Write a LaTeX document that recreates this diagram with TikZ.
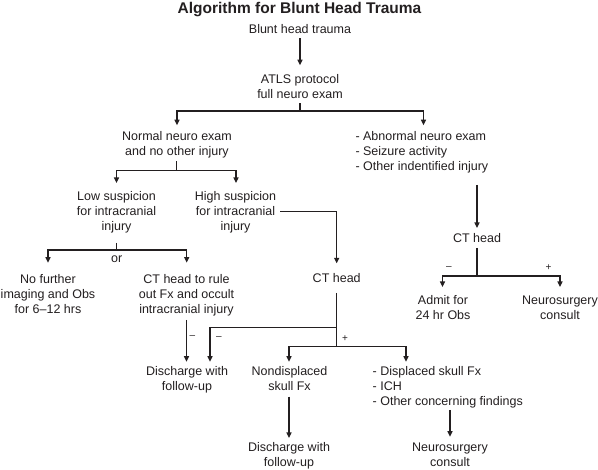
\documentclass[tikz,border=0pt]{standalone}
\usepackage{fontspec}
\setmainfont{Liberation Sans}
\usetikzlibrary{arrows.meta,calc}
\definecolor{ink}{HTML}{231F20}
\begin{document}
\begin{tikzpicture}[x=1pt,y=-1pt,
  txt/.style={inner sep=0pt, outer sep=0pt, align=center, font=\fontsize{12.5}{15}\selectfont, text=ink, anchor=base},
  ltxt/.style={txt, align=left, anchor=base west},
  lbl/.style={inner sep=0pt, outer sep=0pt, font=\fontsize{10}{12}\selectfont, text=ink},
  ln/.style={draw=ink, line width=1.2pt},
  arr/.style={ln, -{Triangle[length=5.5pt,width=5pt]}},
  arrs/.style={ln, {Triangle[length=5.5pt,width=5pt]}-{Triangle[length=5.5pt,width=5pt]}}]
\useasboundingbox (0,0) rectangle (598,470);
\fill[white] (0,0) rectangle (598,470);

% multi-line nodes are placed by the baseline of their last line
\node[txt, font=\bfseries\fontsize{15.5}{18}\selectfont] (title) at (299.5,13.3) {Algorithm for Blunt Head Trauma};
\node[txt] (blunt) at (300,34) {Blunt head trauma};
\node[txt] (atls) at (300,98.7) {ATLS protocol\\full neuro exam};
\node[txt] (normal) at (177,155.2) {Normal neuro exam\\and no other injury};
\node[ltxt] (abnormal) at (355.5,170.2) {- Abnormal neuro exam\\- Seizure activity\\- Other indentified injury};
\node[txt] (low) at (116.5,230.2) {Low suspicion\\for intracranial\\injury};
\node[txt] (high) at (235.5,230.2) {High suspicion\\for intracranial\\injury};
\node[txt] (ctright) at (477,242.5) {CT head};
\node[txt] (nofurther) at (48,313.5) {No further\\imaging and Obs\\for 6–12 hrs};
\node[txt] (ctrule) at (186.5,313.5) {CT head to rule\\out Fx and occult\\intracranial injury};
\node[txt] (ctmid) at (336.7,283) {CT head};
\node[txt] (admit) at (443,319.5) {Admit for\\24 hr Obs};
\node[txt] (neuro1) at (560,319.5) {Neurosurgery\\consult};
\node[txt] (dis1) at (187,390.2) {Discharge with\\follow-up};
\node[txt] (nondisp) at (289.5,390.2) {Nondisplaced\\skull Fx};
\node[ltxt] (displaced) at (372.7,405.2) {- Displaced skull Fx\\- ICH\\- Other concerning findings};
\node[txt] (dis2) at (289,466.2) {Discharge with\\follow-up};
\node[txt] (neuro2) at (450,466.2) {Neurosurgery\\consult};

\node[txt, anchor=center] (or) at (116.7,259.5) {or};
\node[lbl] (m1) at (192.5,337.5) {–};
\node[lbl] (m2) at (219,338.5) {–};
\node[lbl] (p1) at (345,338.5) {+};
\node[lbl] (m3) at (449,268.5) {–};
\node[lbl] (p2) at (548.5,268) {+};

\draw[arr] ($(blunt.base)+(0,4.5)$) -- ($(atls.base)+(0,-33.5)$);
\coordinate (jA) at (300,111);
\draw[ln] ($(atls.base)+(0,4.5)$) -- (jA);
\draw[arrs] ($(normal.base)+(0,-30)$) |- (jA) -| ($(abnormal.base west)+(68,-45)$);

\coordinate (jB) at (176.5,170.7);
\draw[ln] ($(normal.base)+(-0.5,6)$) -- (jB);
\draw[arrs] ($(low.base)+(0,-47.2)$) |- (jB) -| ($(high.base)+(0.5,-47.2)$);
\draw[arr] ($(high.base)+(44.5,-19)$) -| ($(ctmid.base)+(0,-19.7)$);

\draw[arr] ($(abnormal.south -| ctright.base)+(0,12)$) -- ($(ctright.base)+(0,-14.5)$);
\coordinate (jC) at (477,276);
\draw[ln] ($(ctright.base)+(0,5.5)$) -- (jC);
\draw[arrs] ($(admit.base)+(-0.5,-32.5)$) |- (jC) -| ($(neuro1.base)+(0,-32.5)$);

\coordinate (jD) at (116.7,250);
\draw[ln] ($(low.base)+(0.2,12.8)$) -- (jD);
\draw[arrs] ($(nofurther.base)+(0,-50.8)$) |- (jD) -| ($(ctrule.base)+(0.2,-50.8)$);
\draw[arr] ($(ctrule.base)+(0,6.5)$) -- ($(ctrule.base |- dis1.base)+(0,-28.5)$);

\coordinate (jE) at (336.7,346.7);
\coordinate (jF) at (336.7,327.7);
\draw[ln] ($(ctmid.base)+(0,10)$) -- (jE);
\draw[arr] (jF) -| ($(dis1.base)+(23,-28.5)$);
\draw[arrs] ($(nondisp.base)+(-0.5,-28.5)$) |- (jE) -| ($(displaced.base west)+(33.3,-43.5)$);
\draw[arr] ($(nondisp.base)+(-0.5,6.5)$) -- ($(dis2.base)+(0,-28.2)$);
\draw[arr] ($(displaced.base west)+(77.3,4.8)$) -- ($(neuro2.base)+(0,-29.5)$);
\end{tikzpicture}
\end{document}
